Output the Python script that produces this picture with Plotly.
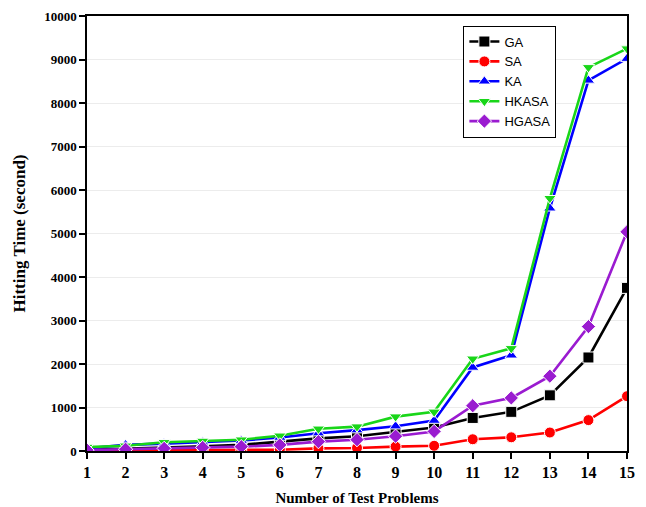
import plotly.graph_objects as go

problems = list(range(1, 16))
ga = [30, 50, 80, 110, 140, 215, 290, 340, 440, 540, 760, 900, 1280, 2150, 3750]
sa = [5, 10, 15, 20, 20, 30, 60, 70, 100, 120, 270, 315, 425, 710, 1260]
ka = [60, 140, 170, 200, 240, 310, 410, 480, 570, 700, 1920, 2200, 5580, 8520, 9020]
hkasa = [90, 120, 200, 230, 260, 350, 510, 560, 790, 900, 2120, 2360, 5810, 8820, 9250]
hgasa = [20, 40, 60, 80, 100, 140, 215, 260, 340, 450, 1040, 1220, 1720, 2860, 5040]

series = [
    ("GA", ga, "#000000", "square"),
    ("SA", sa, "#ff0000", "circle"),
    ("KA", ka, "#0000ff", "triangle-up"),
    ("HKASA", hkasa, "#19d619", "triangle-down"),
    ("HGASA", hgasa, "#9a1bd0", "diamond"),
]

fig = go.Figure()
for name, vals, color, sym in series:
    fig.add_trace(go.Scatter(
        x=problems, y=vals, name=name, mode="lines+markers",
        line=dict(color=color, width=2.6),
        marker=dict(symbol=sym, size=11, color=color, line=dict(color="white", width=1)),
    ))

fig.update_layout(
    width=638, height=499,
    margin=dict(l=79, r=19, t=8, b=56, autoexpand=False),
    paper_bgcolor="white", plot_bgcolor="white",
    showlegend=True,
    legend=dict(x=0.697, y=0.978, xanchor="left", yanchor="top",
                bgcolor="white", bordercolor="black", borderwidth=1,
                font=dict(family="Liberation Sans, Arial", size=13, color="black"),
                itemwidth=30, tracegroupgap=0),
    font=dict(family="Liberation Serif, Times New Roman", color="black"),
)
fig.update_xaxes(
    range=[1, 15], tickmode="array", tickvals=problems,
    ticks="outside", ticklen=6, tickwidth=1.5, tickcolor="black",
    showline=True, linecolor="black", linewidth=1.5, mirror=True,
    showgrid=False, zeroline=False, automargin=False,
    tickfont=dict(family="Liberation Serif", size=16, color="black", weight="bold"),
    title=dict(text="<b>Number of Test Problems</b>", font=dict(family="Liberation Serif", size=15), standoff=13),
)
fig.update_yaxes(
    range=[0, 10000], tickmode="linear", tick0=0, dtick=1000, tickformat="d",
    ticks="outside", ticklen=6, tickwidth=1.5, tickcolor="black",
    showline=True, linecolor="black", linewidth=1.5, mirror=True,
    showgrid=True, gridcolor="#ececec", gridwidth=1, zeroline=False, automargin=False,
    tickfont=dict(family="Liberation Serif", size=13, color="black", weight="bold"),
    title=dict(text="<b>Hitting Time (second)</b>", font=dict(family="Liberation Serif", size=17), standoff=14),
)

fig.write_html("out.html")
